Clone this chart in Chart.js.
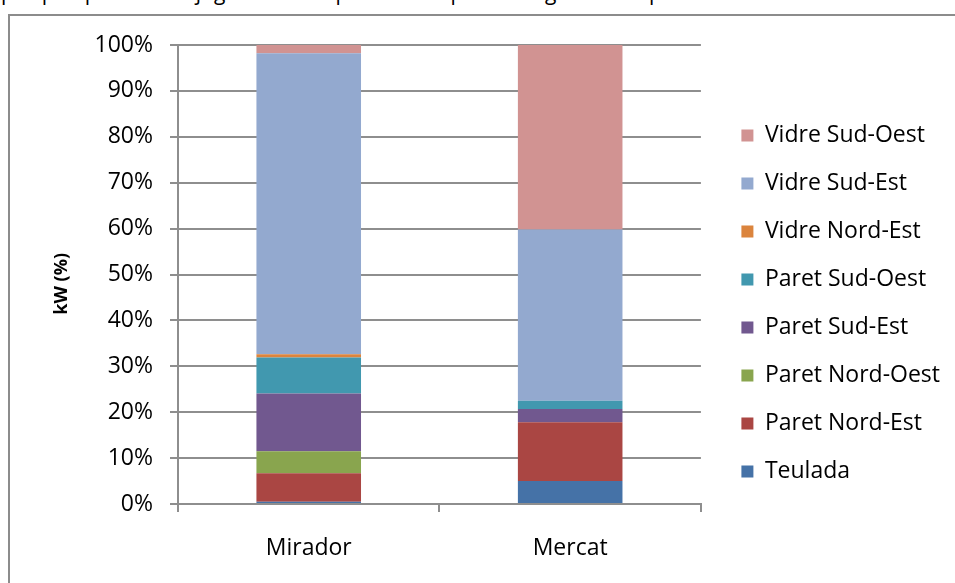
<!DOCTYPE html>
<html>
<head>
<meta charset="utf-8">
<script src="https://cdn.jsdelivr.net/npm/chart.js@4.4.1/dist/chart.umd.min.js"></script>
<style>
  html, body { margin: 0; padding: 0; background: #fff; width: 955px; height: 583px; overflow: hidden; }
  #toptext { position: absolute; left: 0; top: 0; width: 955px; height: 12px; overflow: hidden; }
  #toptext span { position: absolute; left: 1px; top: -22px; font: 21px 'Open Sans', sans-serif; color: #000; white-space: nowrap; }
  #frame { position: absolute; left: 8px; top: 14px; width: 960px; height: 580px; border-left: 2px solid #8c8c8c; border-top: 2px solid #8c8c8c; box-sizing: border-box; }
  #wrap { position: absolute; left: 0; top: 0; width: 955px; height: 583px; }
</style>
</head>
<body>
<div id="toptext"><span>perquè quan es conjuga el total representa el percentatge de la superfície orientada</span></div>
<div id="frame"></div>
<div id="wrap"><canvas id="c" width="955" height="583"></canvas></div>
<script>
const categories = ['Mirador', 'Mercat'];
const seriesNames = ['Teulada', 'Paret Nord-Est', 'Paret Nord-Oest', 'Paret Sud-Est', 'Paret Sud-Oest', 'Vidre Nord-Est', 'Vidre Sud-Est', 'Vidre Sud-Oest'];
const teulada      = [0.5, 5.0];
const paretNordEst = [6.2, 12.8];
const paretNordOest= [4.8, 0.0];
const paretSudEst  = [12.6, 2.9];
const paretSudOest = [7.8, 1.8];
const vidreNordEst = [0.7, 0.0];
const vidreSudEst  = [65.6, 37.3];
const vidreSudOest = [1.8, 40.2];
const yTicks = [0, 10, 20, 30, 40, 50, 60, 70, 80, 90, 100];
const colors = ['#4572A7', '#AA4643', '#89A54E', '#71588F', '#4198AF', '#DB843D', '#93A9CF', '#D19392'];

const seriesValues = [teulada, paretNordEst, paretNordOest, paretSudEst, paretSudOest, vidreNordEst, vidreSudEst, vidreSudOest];

Chart.defaults.font.family = "'Open Sans', sans-serif";
Chart.defaults.font.size = 23;
Chart.defaults.color = '#000';

const gridColor = '#8e8e8e';

new Chart(document.getElementById('c'), {
  type: 'bar',
  data: {
    labels: categories,
    datasets: seriesNames.map((n, i) => ({
      label: n,
      data: seriesValues[i],
      backgroundColor: colors[i],
      borderColor: colors[i],
      borderWidth: 0,
      barPercentage: 0.4,
      categoryPercentage: 1.0
    }))
  },
  options: {
    responsive: false,
    animation: false,
    devicePixelRatio: 1,
    layout: { padding: { left: 0, top: 45, right: 5, bottom: 0 } },
    plugins: {
      legend: {
        position: 'right',
        align: 'start',
        fullSize: true,
        reverse: true,
        title: { display: true, text: ' ', font: { size: 10 }, padding: { top: 21, bottom: 21 } },
        labels: { boxWidth: 12, boxHeight: 12, padding: 25, color: '#000', font: { size: 23 } }
      },
      tooltip: { enabled: false }
    },
    scales: {
      x: {
        stacked: true,
        grid: { display: true, offset: true, drawOnChartArea: false, drawTicks: true, tickLength: 8, color: gridColor, lineWidth: 2 },
        border: { display: true, color: gridColor, width: 2 },
        ticks: { padding: 23, color: '#000' },
        afterFit: s => { s.height = 79; }
      },
      y: {
        stacked: true,
        min: 0,
        max: 100,
        afterBuildTicks: s => { s.ticks = yTicks.map(v => ({ value: v })); },
        ticks: { padding: 17, color: '#000', callback: v => v + '%' },
        grid: { color: gridColor, lineWidth: 2, tickLength: 8, drawTicks: true },
        border: { display: true, color: gridColor, width: 2 },
        title: { display: true, text: 'kW (%)    ', font: { size: 18, weight: 'bold' }, color: '#000', padding: { top: 51, bottom: 0 } },
        afterFit: s => { s.width = 178; }
      },
      spacer: {
        type: 'linear',
        position: 'right',
        display: false,
        afterFit: s => { s.width = 15.5; }
      }
    }
  }
});
</script>
</body>
</html>
